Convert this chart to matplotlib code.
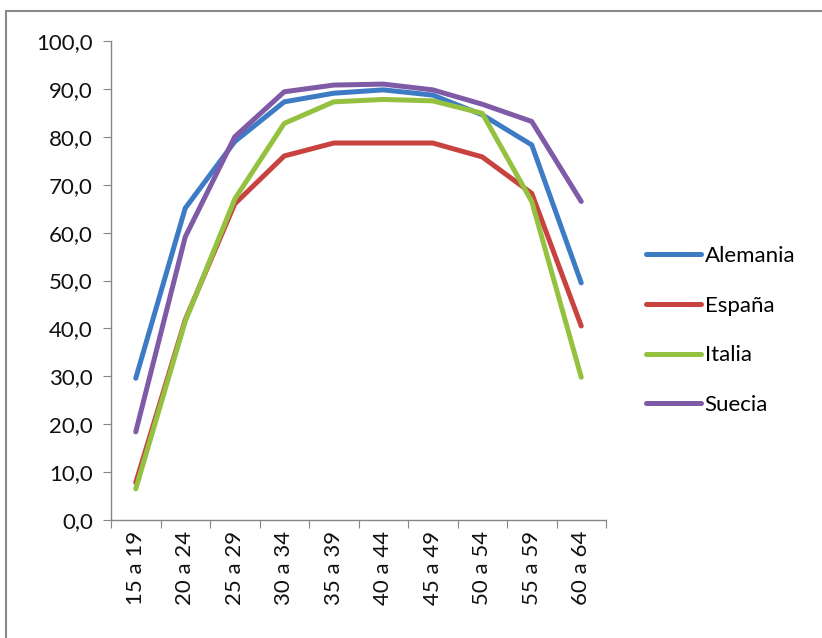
import matplotlib
matplotlib.use('Agg')
import matplotlib.pyplot as plt
from matplotlib.patches import Rectangle
from matplotlib.ticker import FixedLocator, FuncFormatter

# age groups and activity rates (%)
grupos = ['15 a 19', '20 a 24', '25 a 29', '30 a 34', '35 a 39',
          '40 a 44', '45 a 49', '50 a 54', '55 a 59', '60 a 64']
alemania = [29.6, 65.1, 79.0, 87.3, 89.1, 89.8, 88.7, 84.6, 78.3, 49.5]
espana = [7.8, 41.8, 66.0, 76.0, 78.7, 78.7, 78.7, 75.8, 68.2, 40.5]
italia = [6.5, 41.5, 67.0, 82.8, 87.3, 87.8, 87.5, 84.9, 66.5, 29.8]
suecia = [18.4, 59.1, 80.0, 89.4, 90.8, 91.0, 89.8, 86.8, 83.2, 66.5]

series = [('Alemania', alemania, '#3d7cc4'),
          ('España', espana, '#c8433f'),
          ('Italia', italia, '#95c140'),
          ('Suecia', suecia, '#7f5aa6')]

plt.rcParams['font.family'] = ['Lato', 'DejaVu Sans']
W, H = 822, 638
fig = plt.figure(figsize=(W / 100, H / 100), dpi=100)
ax = fig.add_axes([111 / W, (H - 520) / H, (606 - 111) / W, (520 - 41) / H])

x = list(range(len(grupos)))
for nombre, vals, color in series:
    ax.plot(x, vals, color=color, lw=3.6, label=nombre,
            solid_capstyle='round', solid_joinstyle='round')

ax.set_xlim(-0.5, len(grupos) - 0.5)
ax.set_ylim(0, 100)
ax.set_yticks(range(0, 101, 10))
ax.yaxis.set_major_formatter(FuncFormatter(lambda v, p: f'{v:.1f}'.replace('.', ',')))

# tick marks between categories, labels centred on each category
ax.xaxis.set_major_locator(FixedLocator([i - 0.5 for i in range(len(grupos) + 1)]))
ax.xaxis.set_minor_locator(FixedLocator(x))
ax.set_xticklabels([''] * (len(grupos) + 1))
ax.set_xticklabels(grupos, minor=True, rotation=90)
ax.tick_params(axis='x', which='minor', length=0, pad=8, labelsize=16, colors='#111111')
ax.tick_params(axis='x', which='major', length=6, color='#868686')
ax.tick_params(axis='y', length=6, color='#868686', labelsize=16, labelcolor='#111111', pad=7)

for s in ['top', 'right']:
    ax.spines[s].set_visible(False)
for s in ['left', 'bottom']:
    ax.spines[s].set_color('#868686')
    ax.spines[s].set_linewidth(1.0)

leg = fig.legend(loc='upper left', bbox_to_anchor=(637 / W, (H - 237) / H),
                 frameon=False, fontsize=16, handlelength=2.5, handletextpad=0.15,
                 labelspacing=1.34, borderaxespad=0)

# outer chart border
fig.patches.append(Rectangle((6 / W, -0.1), 1.2, (H - 11) / H + 0.1,
                             transform=fig.transFigure, fill=False,
                             edgecolor='#8a8a8a', lw=1.5, clip_on=False))

fig.savefig('out.png', dpi=100)
